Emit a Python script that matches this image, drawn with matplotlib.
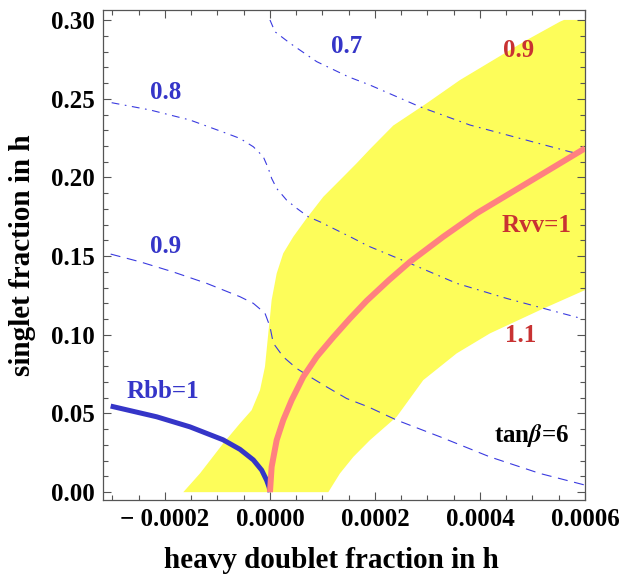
import numpy as np
import matplotlib
matplotlib.use("Agg")
import matplotlib.pyplot as plt
from matplotlib.ticker import MultipleLocator, FuncFormatter

plt.rcParams['font.family'] = ['Liberation Serif', 'DejaVu Serif']
plt.rcParams['font.weight'] = 'bold'
plt.rcParams['mathtext.fontset'] = 'stix'

# allowed region (yellow): upper-left edge then lower-right edge
band_upper_x = [-1.651e-4, -1.333e-4, -8.9e-5, -5.71e-5, -3.49e-5, -1.9e-5, -9.5e-6,
                -3.2e-6, 0.0, 3.2e-6, 1.28e-5, 2.53e-5, 4.44e-5, 6.98e-5, 1.016e-4,
                1.333e-4, 1.651e-4, 1.905e-4, 2.349e-4, 2.984e-4, 3.619e-4,
                4.254e-4, 4.889e-4, 5.524e-4, 5.6e-4, 6.0e-4]
band_upper_y = [0.0, 0.0119, 0.0310, 0.0437, 0.0521, 0.0648, 0.0797,
                0.1009, 0.1110, 0.1221, 0.1390, 0.1518, 0.1623, 0.1740, 0.1877,
                0.1983, 0.2090, 0.2180, 0.2330, 0.2471, 0.2619,
                0.2746, 0.2873, 0.2990, 0.3001, 0.3001]
band_lower_x = [6.0e-4, 5.143e-4, 4.19e-4, 3.556e-4, 2.92e-4, 2.413e-4, 1.905e-4,
                1.587e-4, 1.333e-4, 1.111e-4]
band_lower_y = [0.1284, 0.1157, 0.1009, 0.0882, 0.0712, 0.0479, 0.0331,
                0.0224, 0.0119, 0.0]

# Rbb contours
c07_x = [0.0, 9.5e-6, 3.81e-5, 8.9e-5, 1.491e-4, 1.905e-4, 2.857e-4, 3.81e-4,
         4.762e-4, 5.714e-4, 6.0e-4]
c07_y = [0.3001, 0.2926, 0.2853, 0.2736, 0.2640, 0.2587, 0.2449, 0.2333,
         0.2248, 0.2163, 0.2143]
c08_x = [-3.015e-4, -2.286e-4, -1.524e-4, -8.25e-5, -5.71e-5, -3.17e-5, -1.28e-5,
         -3.2e-6, 3.2e-6, 1.28e-5, 3.17e-5, 5.09e-5, 7.3e-5, 9.52e-5, 1.333e-4,
         1.587e-4, 1.872e-4, 2.667e-4, 3.556e-4, 4.51e-4, 5.333e-4, 5.905e-4]
c08_y = [0.2475, 0.2429, 0.2365, 0.2280, 0.2248, 0.2195, 0.2132, 0.2058, 0.1994,
         0.1930, 0.1856, 0.1804, 0.1750, 0.1718, 0.1655, 0.1613, 0.1564,
         0.1454, 0.1327, 0.1231, 0.1157, 0.1106]
c09_x = [-3.034e-4, -2.476e-4, -1.848e-4, -1.206e-4, -5.71e-5, -3.17e-5, -9.5e-6,
         0.0, 6.3e-6, 2.53e-5, 5.09e-5, 7.62e-5, 1.08e-4, 1.461e-4, 1.872e-4,
         2.413e-4, 3.238e-4, 4.19e-4, 5.14e-4, 6.0e-4]
c09_y = [0.1513, 0.1464, 0.1400, 0.1327, 0.1242, 0.1200, 0.1137, 0.1052, 0.0947,
         0.0860, 0.0786, 0.0733, 0.0669, 0.0595, 0.0542, 0.0458, 0.0352, 0.0224,
         0.0119, 0.0045]

# Rvv = 1 and Rbb = 1 curves
rvv_x = [0.0, 3.2e-6, 1.28e-5, 2.53e-5, 4.13e-5, 6.34e-5, 8.9e-5, 1.206e-4,
         1.524e-4, 1.842e-4, 2.267e-4, 2.667e-4, 3.30e-4, 3.937e-4, 4.571e-4,
         5.206e-4, 6.0e-4]
rvv_y = [0.0, 0.0161, 0.0331, 0.0458, 0.0585, 0.0733, 0.0860, 0.0985,
         0.1104, 0.1216, 0.1348, 0.1464, 0.1623, 0.1772, 0.1899,
         0.2026, 0.2185]
rbb_x = [-3.034e-4, -2.158e-4, -1.524e-4, -8.95e-5, -5.71e-5, -3.17e-5, -1.58e-5,
         -6.3e-6, -1.5e-6, 0.0]
rbb_y = [0.0547, 0.0479, 0.0415, 0.0333, 0.0272, 0.0205, 0.0140, 0.0075, 0.0030, 0.0]

blue = '#3535c8'
red = '#c83232'

fig = plt.figure(figsize=(6.22, 5.79), dpi=100)
ax = fig.add_axes([0.1656, 0.1364, 0.7749, 0.8463])

ax.fill(band_upper_x + band_lower_x, band_upper_y + band_lower_y,
        color='#fdfd5a', lw=0, zorder=1)

ax.plot(c07_x, c07_y, color='#3a3ae0', lw=0.8, ls=(0, (7, 5, 1.5, 5)), zorder=2)
ax.plot(c08_x, c08_y, color='#3a3ae0', lw=0.8, ls=(0, (7, 5, 1.5, 5)), zorder=2)
ax.plot(c09_x, c09_y, color='#3a3ae0', lw=0.8, ls=(0, (9, 6)), zorder=2)

ax.plot(rbb_x, rbb_y, color=blue, lw=3.6, zorder=3, solid_capstyle='butt',
        solid_joinstyle='round')
ax.plot(rvv_x, rvv_y, color='#ff8080', lw=4.3, zorder=4, solid_capstyle='butt',
        solid_joinstyle='round')

fs = 18
ax.text(1.467e-4, 0.2829, '0.7', color=blue, fontsize=fs, ha='center', va='center')
ax.text(-1.98e-4, 0.2537, '0.8', color=blue, fontsize=fs, ha='center', va='center')
ax.text(-1.98e-4, 0.1558, '0.9', color=blue, fontsize=fs, ha='center', va='center')
ax.text(-2.04e-4, 0.0638, 'Rbb=1', color=blue, fontsize=fs, ha='center', va='center')
ax.text(4.74e-4, 0.2804, '0.9', color=red, fontsize=fs, ha='center', va='center')
ax.text(5.07e-4, 0.1697, 'Rvv=1', color=red, fontsize=fs, ha='center', va='center')
ax.text(4.78e-4, 0.0998, '1.1', color=red, fontsize=fs, ha='center', va='center')
ax.text(4.99e-4, 0.0362, r'tan$\beta$=6', color='black', fontsize=fs,
        ha='center', va='center')

ax.set_xlim(-3.18e-4, 6.0e-4)
ax.set_ylim(-0.005, 0.3064)

ax.xaxis.set_major_locator(MultipleLocator(0.0002))
ax.xaxis.set_minor_locator(MultipleLocator(0.00005))
ax.yaxis.set_major_locator(MultipleLocator(0.05))
ax.yaxis.set_minor_locator(MultipleLocator(0.01))
ax.xaxis.set_major_formatter(FuncFormatter(lambda v, p: ('%.4f' % v).replace('-', '\u2212 ')
                                           if abs(v) > 1e-12 else '0.0000'))
ax.yaxis.set_major_formatter(FuncFormatter(lambda v, p: '%.2f' % abs(v) if abs(v) < 1e-9 else '%.2f' % v))

for s in ax.spines.values():
    s.set_color('#555555')
    s.set_linewidth(0.9)
ax.tick_params(which='both', direction='in', top=True, right=True, color='#555555',
               labelsize=18, width=0.8)
ax.tick_params(which='major', length=6, pad=6)
ax.tick_params(which='minor', length=3.5)

ax.set_xlabel('heavy doublet fraction in h', fontsize=21, fontweight='bold')
ax.set_ylabel('singlet fraction in h', fontsize=21, fontweight='bold')
ax.xaxis.set_label_coords(0.473, -0.095)
ax.yaxis.set_label_coords(-0.14, 0.5)

fig.savefig('out.png', dpi=100)
